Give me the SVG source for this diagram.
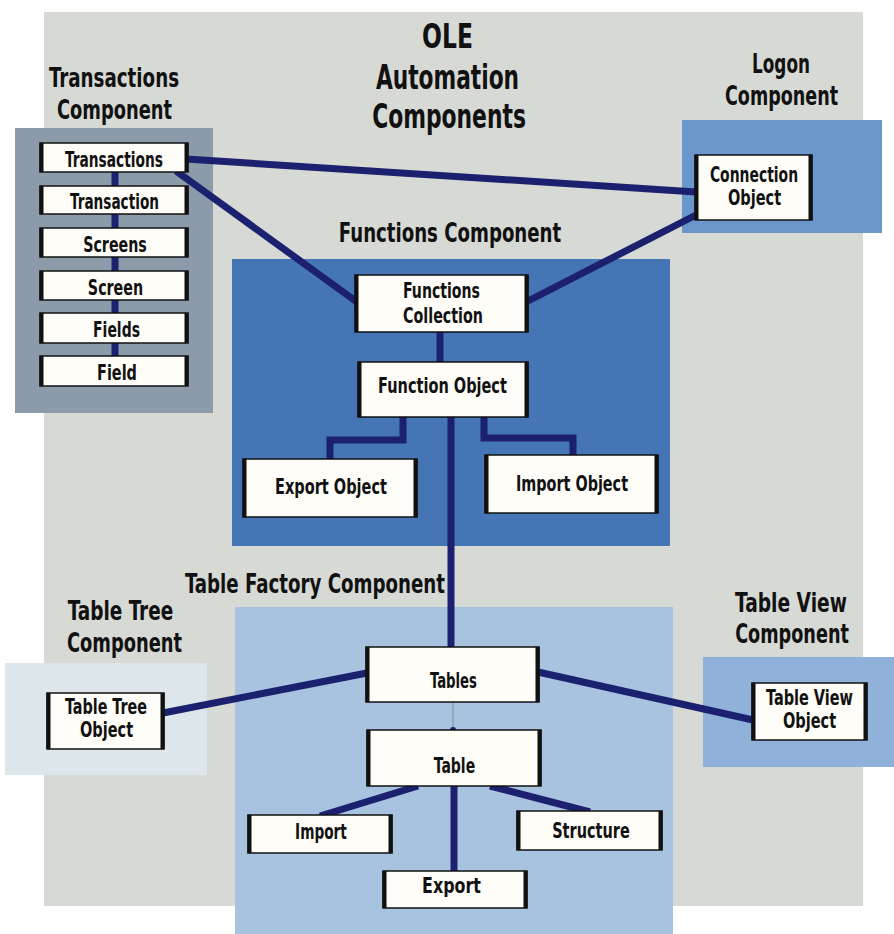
<svg xmlns="http://www.w3.org/2000/svg" width="894" height="934" viewBox="0 0 894 934">
  <style>
    text { font-family: "Liberation Sans Narrow", "DejaVu Sans Condensed", "Liberation Sans", sans-serif; font-weight: bold; fill: #111; text-anchor: middle; }
    .title { font-size: 33px; }
    .head { font-size: 26.5px; }
    .lbl { font-size: 21px; }
    .box { fill: #fffdf8; stroke: #111; stroke-width: 1.5; }
    .edge { fill: none; stroke: #111; stroke-width: 4; }
    .wire { fill: none; stroke: #1b206f; stroke-width: 7; }
    .faint { fill: none; stroke: #8a8f95; stroke-width: 1; }
  </style>

  <rect width="894" height="934" fill="#ffffff"/>

  <!-- component panels -->
  <g id="panels">
    <rect x="44" y="12" width="819" height="894" fill="#d6d9d4"/>
    <rect id="panel-transactions" x="15" y="128" width="198" height="285" fill="#8d9aa9"/>
    <rect id="panel-logon" x="682" y="120" width="200" height="113" fill="#6b98cc"/>
    <rect id="panel-functions" x="232" y="259" width="438" height="287" fill="#4675b5"/>
    <rect id="panel-tablefactory" x="235" y="607" width="438" height="327" fill="#a8c3df"/>
    <rect id="panel-tabletree" x="5" y="663" width="202" height="112" fill="#dde6ea"/>
    <rect id="panel-tableview" x="703" y="657" width="191" height="110" fill="#8fb1da"/>
  </g>

  <!-- headings (condensed with a horizontal scale) -->
  <g id="headings">
    <text class="title" transform="translate(447.5 48) scale(0.62 1)" textLength="82" lengthAdjust="spacingAndGlyphs">OLE</text>
    <text class="title" transform="translate(447.5 88.5) scale(0.62 1)" textLength="231" lengthAdjust="spacingAndGlyphs">Automation</text>
    <text class="title" transform="translate(449 127.5) scale(0.62 1)" textLength="248" lengthAdjust="spacingAndGlyphs">Components</text>
    <text class="head" transform="translate(114 87) scale(0.65 1)" textLength="200" lengthAdjust="spacingAndGlyphs">Transactions</text>
    <text class="head" transform="translate(114.5 119) scale(0.65 1)" textLength="177" lengthAdjust="spacingAndGlyphs">Component</text>
    <text class="head" transform="translate(781 73) scale(0.65 1)" textLength="89" lengthAdjust="spacingAndGlyphs">Logon</text>
    <text class="head" transform="translate(781.5 105) scale(0.65 1)" textLength="174" lengthAdjust="spacingAndGlyphs">Component</text>
    <text class="head" transform="translate(450 242) scale(0.65 1)" textLength="342" lengthAdjust="spacingAndGlyphs">Functions Component</text>
    <text class="head" transform="translate(315 593) scale(0.65 1)" textLength="400" lengthAdjust="spacingAndGlyphs">Table Factory Component</text>
    <text class="head" transform="translate(120.5 620) scale(0.65 1)" textLength="162" lengthAdjust="spacingAndGlyphs">Table Tree</text>
    <text class="head" transform="translate(124.5 652) scale(0.65 1)" textLength="177" lengthAdjust="spacingAndGlyphs">Component</text>
    <text class="head" transform="translate(791 612) scale(0.65 1)" textLength="172" lengthAdjust="spacingAndGlyphs">Table View</text>
    <text class="head" transform="translate(792 643) scale(0.65 1)" textLength="175" lengthAdjust="spacingAndGlyphs">Component</text>
  </g>

  <!-- connectors -->
  <g id="connectors">
    <path class="wire" d="M115 172 V356"/>
    <path class="wire" d="M186 159 L696 192"/>
    <path class="wire" d="M176 171 L357 302"/>
    <path class="wire" d="M526 302 L696 215"/>
    <path class="wire" d="M440 331 V363"/>
    <path class="wire" stroke-width="8" d="M403 416 V440 H330 V460"/>
    <path class="wire" stroke-width="8" d="M484 416 V438 H573 V456"/>
    <path class="wire" d="M451 416 V648"/>
    <path class="wire" d="M163 713 L367 673"/>
    <path class="wire" d="M538 672 L753 720"/>
    <path class="faint" d="M453 702 V730"/>
    <circle cx="453" cy="730" r="3" fill="#1b206f"/>
    <path class="wire" d="M418 786 L320 816"/>
    <path class="wire" d="M490 786 L590 812"/>
    <path class="wire" d="M454 785 V872"/>
  </g>

  <!-- Transactions component -->
  <g id="node-transactions">
    <rect class="box" x="40" y="143" width="148" height="29"/>
    <path class="edge" d="M41.5 143 V172 M186.5 143 V172"/>
    <text class="lbl" transform="translate(114 167) scale(0.7 1)" textLength="140" lengthAdjust="spacingAndGlyphs">Transactions</text>
  </g>
  <g id="node-transaction">
    <rect class="box" x="40" y="186" width="148" height="28"/>
    <path class="edge" d="M41.5 186 V214 M186.5 186 V214"/>
    <text class="lbl" transform="translate(114.5 209) scale(0.7 1)" textLength="127" lengthAdjust="spacingAndGlyphs">Transaction</text>
  </g>
  <g id="node-screens">
    <rect class="box" x="40" y="228" width="148" height="29"/>
    <path class="edge" d="M41.5 228 V257 M186.5 228 V257"/>
    <text class="lbl" transform="translate(115 252) scale(0.7 1)" textLength="91" lengthAdjust="spacingAndGlyphs">Screens</text>
  </g>
  <g id="node-screen">
    <rect class="box" x="40" y="271" width="148" height="29"/>
    <path class="edge" d="M41.5 271 V300 M186.5 271 V300"/>
    <text class="lbl" transform="translate(115.5 295) scale(0.7 1)" textLength="79" lengthAdjust="spacingAndGlyphs">Screen</text>
  </g>
  <g id="node-fields">
    <rect class="box" x="40" y="313" width="148" height="30"/>
    <path class="edge" d="M41.5 313 V343 M186.5 313 V343"/>
    <text class="lbl" transform="translate(116.5 337) scale(0.7 1)" textLength="67" lengthAdjust="spacingAndGlyphs">Fields</text>
  </g>
  <g id="node-field">
    <rect class="box" x="40" y="356" width="148" height="30"/>
    <path class="edge" d="M41.5 356 V386 M186.5 356 V386"/>
    <text class="lbl" transform="translate(117 380) scale(0.7 1)" textLength="57" lengthAdjust="spacingAndGlyphs">Field</text>
  </g>

  <!-- Logon component -->
  <g id="node-connection">
    <rect class="box" x="695" y="155" width="117" height="65"/>
    <path class="edge" d="M696.5 155 V220 M810.5 155 V220"/>
    <text class="lbl" transform="translate(754 182) scale(0.7 1)" textLength="126" lengthAdjust="spacingAndGlyphs">Connection</text>
    <text class="lbl" transform="translate(754.5 205) scale(0.7 1)" textLength="76" lengthAdjust="spacingAndGlyphs">Object</text>
  </g>

  <!-- Functions component -->
  <g id="node-functions-collection">
    <rect class="box" x="355" y="275" width="173" height="57"/>
    <path class="edge" d="M356.5 275 V332 M526.5 275 V332"/>
    <text class="lbl" transform="translate(441.5 298) scale(0.7 1)" textLength="110" lengthAdjust="spacingAndGlyphs">Functions</text>
    <text class="lbl" transform="translate(443 323) scale(0.7 1)" textLength="114" lengthAdjust="spacingAndGlyphs">Collection</text>
  </g>
  <g id="node-function-object">
    <rect class="box" x="358" y="362" width="170" height="55"/>
    <path class="edge" d="M359.5 362 V417 M526.5 362 V417"/>
    <text class="lbl" transform="translate(442.5 393) scale(0.7 1)" textLength="184" lengthAdjust="spacingAndGlyphs">Function Object</text>
  </g>
  <g id="node-export-object">
    <rect class="box" x="243" y="459" width="174" height="58"/>
    <path class="edge" d="M244.5 459 V517 M415.5 459 V517"/>
    <text class="lbl" transform="translate(331 494) scale(0.7 1)" textLength="160" lengthAdjust="spacingAndGlyphs">Export Object</text>
  </g>
  <g id="node-import-object">
    <rect class="box" x="485" y="455" width="173" height="58"/>
    <path class="edge" d="M486.5 455 V513 M656.5 455 V513"/>
    <text class="lbl" transform="translate(572 491) scale(0.7 1)" textLength="160" lengthAdjust="spacingAndGlyphs">Import Object</text>
  </g>

  <!-- Table Factory component -->
  <g id="node-tables">
    <rect class="box" x="366" y="647" width="173" height="55"/>
    <path class="edge" d="M367.5 647 V702 M537.5 647 V702"/>
    <text class="lbl" transform="translate(453.5 688) scale(0.7 1)" textLength="67" lengthAdjust="spacingAndGlyphs">Tables</text>
  </g>
  <g id="node-table">
    <rect class="box" x="367" y="730" width="174" height="56"/>
    <path class="edge" d="M368.5 730 V786 M539.5 730 V786"/>
    <text class="lbl" transform="translate(454.5 773) scale(0.7 1)" textLength="59" lengthAdjust="spacingAndGlyphs">Table</text>
  </g>
  <g id="node-import">
    <rect class="box" x="248" y="815" width="144" height="38"/>
    <path class="edge" d="M249.5 815 V853 M390.5 815 V853"/>
    <text class="lbl" transform="translate(321 839) scale(0.7 1)" textLength="74" lengthAdjust="spacingAndGlyphs">Import</text>
  </g>
  <g id="node-structure">
    <rect class="box" x="517" y="811" width="145" height="39"/>
    <path class="edge" d="M518.5 811 V850 M660.5 811 V850"/>
    <text class="lbl" transform="translate(591 838) scale(0.7 1)" textLength="111" lengthAdjust="spacingAndGlyphs">Structure</text>
  </g>
  <g id="node-export">
    <rect class="box" x="383" y="871" width="144" height="37"/>
    <path class="edge" d="M384.5 871 V908 M525.5 871 V908"/>
    <text class="lbl" transform="translate(451.5 893) scale(0.7 1)" textLength="84" lengthAdjust="spacingAndGlyphs">Export</text>
  </g>

  <!-- Table Tree component -->
  <g id="node-table-tree">
    <rect class="box" x="47" y="693" width="117" height="56"/>
    <path class="edge" d="M48.5 693 V749 M162.5 693 V749"/>
    <text class="lbl" transform="translate(106 714) scale(0.7 1)" textLength="117" lengthAdjust="spacingAndGlyphs">Table Tree</text>
    <text class="lbl" transform="translate(106.5 737) scale(0.7 1)" textLength="76" lengthAdjust="spacingAndGlyphs">Object</text>
  </g>

  <!-- Table View component -->
  <g id="node-table-view">
    <rect class="box" x="752" y="683" width="115" height="57"/>
    <path class="edge" d="M753.5 683 V740 M865.5 683 V740"/>
    <text class="lbl" transform="translate(809.5 705) scale(0.7 1)" textLength="124" lengthAdjust="spacingAndGlyphs">Table View</text>
    <text class="lbl" transform="translate(809.5 728) scale(0.7 1)" textLength="76" lengthAdjust="spacingAndGlyphs">Object</text>
  </g>
</svg>
